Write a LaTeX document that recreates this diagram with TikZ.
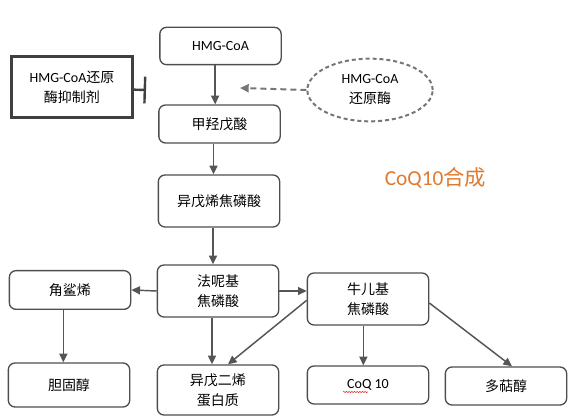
\documentclass[tikz,border=0pt]{standalone}
\usepackage{fontspec}
\usepackage{tikz}
\usetikzlibrary{shapes.geometric,arrows.meta,decorations.pathmorphing}
\setmainfont{Carlito}
\newfontfamily\cjk{Noto Sans CJK SC}
\definecolor{boxgray}{HTML}{4E4E4E}
\definecolor{linegray}{HTML}{555555}
\definecolor{dashgray}{HTML}{767676}
\definecolor{inhibgray}{HTML}{404040}
\definecolor{cocoorange}{HTML}{E07A30}
\definecolor{spellred}{HTML}{E03030}

\begin{document}
\begin{tikzpicture}[
    x=0.75pt, y=-0.75pt,
    every node/.style={
        font=\fontsize{10.5pt}{15pt}\selectfont,
        align=center,
        inner sep=0pt
    },
    procbox/.style={
        draw=boxgray, line width=1pt,
        rounded corners=5pt,
        minimum width=91pt
    },
    inhibbox/.style={
        draw=inhibgray, line width=2.2pt,
        minimum width=91pt, minimum height=46pt
    },
    enzyme/.style={
        ellipse, draw=dashgray, line width=1.5pt,
        dash pattern=on 3pt off 2.2pt,
        minimum width=94pt, minimum height=47pt
    },
    flow/.style={draw=linegray, line width=1.1pt,
        -{Triangle[length=6.5pt,width=6pt]}}
]
\useasboundingbox (0,0) rectangle (569,416);

% main column
\node[procbox, minimum height=28pt] (hmg) at (220.5,46) {HMG-CoA};
\node[procbox, minimum height=28.5pt] (mva) at (219.5,124) {\cjk 甲羟戊酸};
\node[procbox, minimum height=39pt] (ipp) at (219,201) {\cjk 异戊烯焦磷酸};
\node[procbox, minimum height=39pt] (fpp) at (218,291) {\cjk 法呢基\\\cjk 焦磷酸};

% regulation
\node[inhibbox] (inhib) at (72,87) {HMG-CoA{\cjk 还原}\\\cjk 酶抑制剂};
\node[enzyme] (enz) at (370,90) {HMG-CoA\\\cjk 还原酶};
\coordinate (enztip) at (240,88);
\coordinate (inhibtip) at (146,90);

\node[text=cocoorange, font=\fontsize{16pt}{18pt}\selectfont] (title) at (435.5,178) {CoQ10{\cjk 合成}};

% branches
\node[procbox, minimum height=29pt] (sq) at (70,290) {\cjk 角鲨烯};
\node[procbox, minimum height=33pt] (chol) at (69,385) {\cjk 胆固醇};
\node[procbox, minimum height=37.5pt] (prot) at (218,390) {\cjk 异戊二烯\\\cjk 蛋白质};
\node[procbox, minimum height=39pt] (ggpp) at (368,299) {\cjk 牛儿基\\\cjk 焦磷酸};
\node[procbox, minimum height=28.5pt] (coq) at (368,385) {CoQ 10};
\node[procbox, minimum height=28.5pt] (dol) at (506,386) {\cjk 多萜醇};

\draw[flow] ([xshift=-4pt]hmg.south) -- ([xshift=-4pt]hmg.south |- mva.north);
\draw[flow] ([xshift=-4.5pt]mva.south) -- ([xshift=-4.5pt]mva.south |- ipp.north);
\draw[flow] ([xshift=-4.5pt]ipp.south) -- ([xshift=-4.5pt]ipp.south |- fpp.north);
\draw[flow, dash pattern=on 4.5pt off 3pt, draw=dashgray, line width=1.5pt] (enz.west) -- (enztip);
\draw[draw=inhibgray, line width=1.8pt, -{Bar[width=20pt]}] ([yshift=-2pt]inhib.east) -- (inhibtip);
\draw[flow] (fpp.west) -- (sq.east);
\draw[flow] (fpp.east) -- (fpp.east -| ggpp.west);
\draw[flow] ([xshift=-5pt]sq.south) -- ([xshift=-5pt]sq.south |- chol.north);
\draw[flow] ([xshift=-4.5pt]fpp.south) -- ([xshift=-4.5pt]fpp.south |- prot.north);
\draw[flow] ([yshift=-1pt]ggpp.west) -- ([xshift=7.5pt]prot.north);
\draw[flow] ([xshift=-3.5pt]ggpp.south) -- ([xshift=-3.5pt]ggpp.south |- coq.north);
\draw[flow] ([yshift=-3pt]ggpp.east) -- ([xshift=4.5pt]dol.north);

% spell-check mark under CoQ
\draw[spellred, line width=0.4pt, decorate,
      decoration={snake, amplitude=0.5pt, segment length=2pt}]
    (343,392) -- (368,392);
\end{tikzpicture}
\end{document}
